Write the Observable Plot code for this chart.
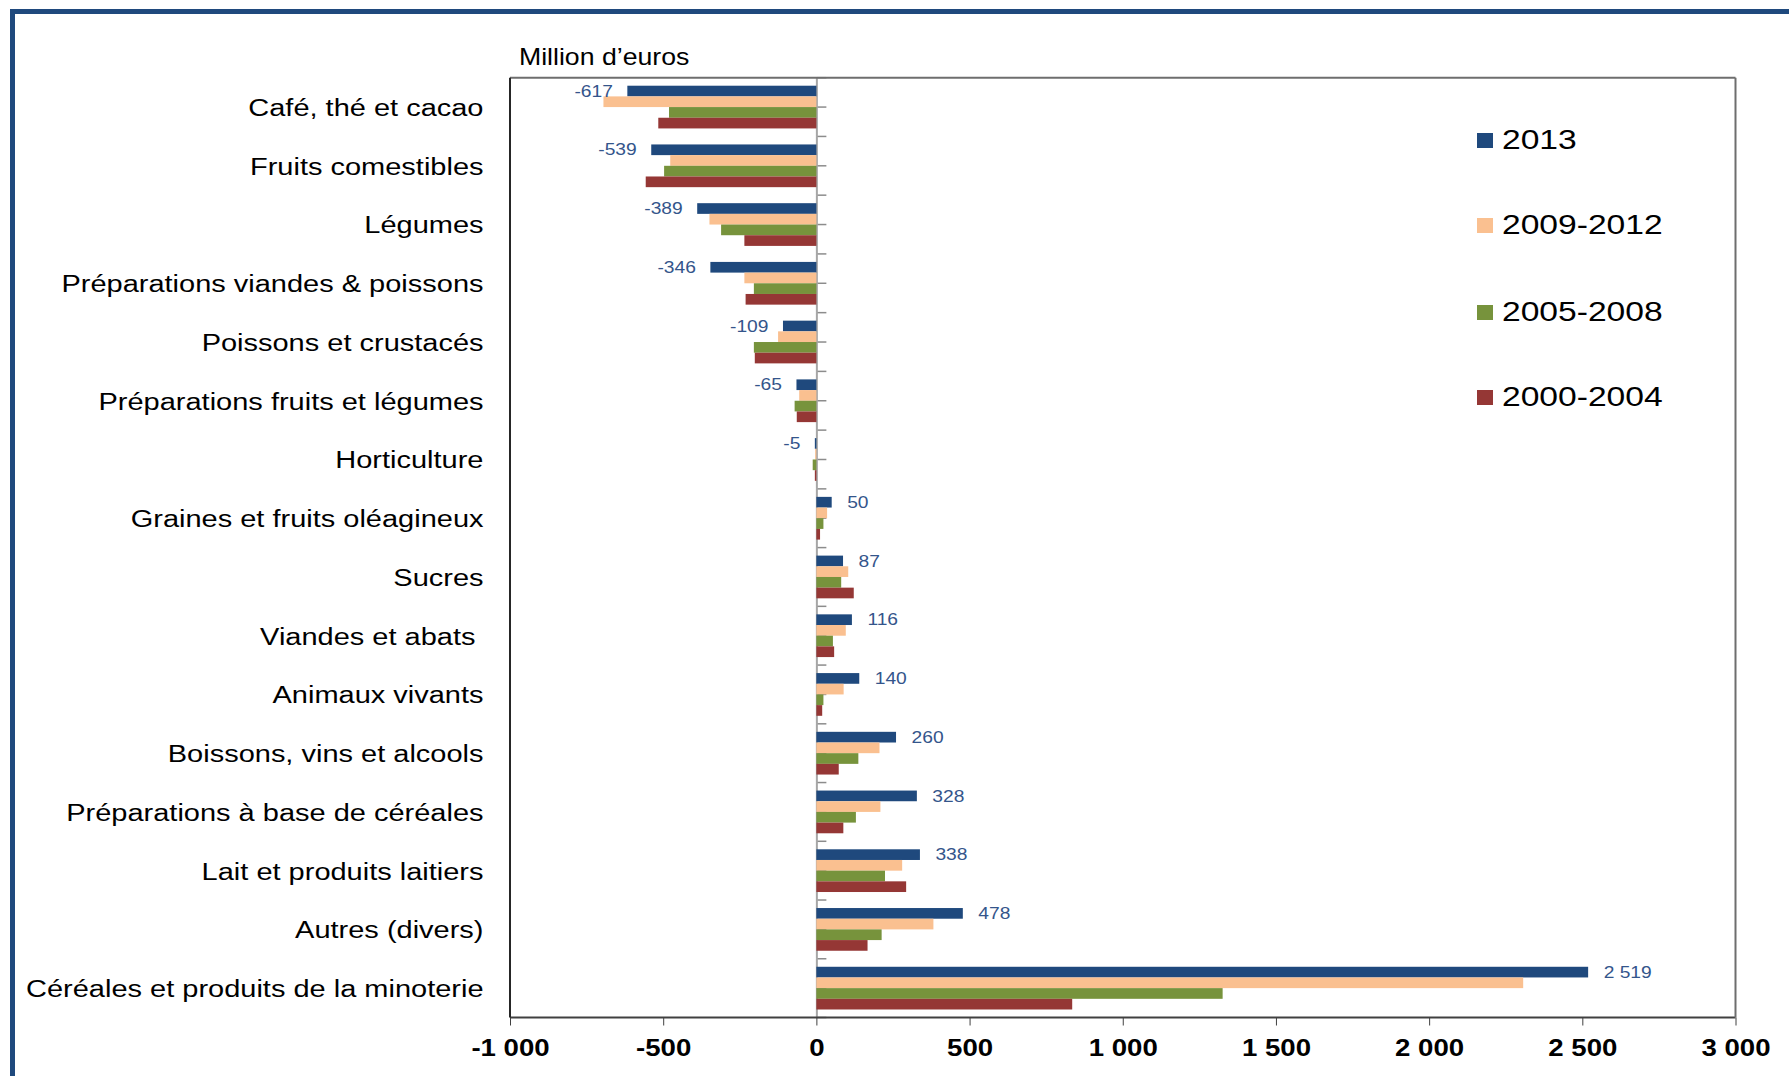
<!DOCTYPE html>
<html>
<head>
<meta charset="utf-8">
<script src="https://cdn.jsdelivr.net/npm/d3@7"></script>
<script src="https://cdn.jsdelivr.net/npm/@observablehq/plot@0.6"></script>
<style>
  html, body { margin: 0; padding: 0; background: #fff; }
  body { width: 1789px; height: 1076px; overflow: hidden; position: relative; font-family: "Liberation Sans", Arial, sans-serif; }
  #chart { position: absolute; left: 0; top: 0; }
  #chart svg text { white-space: pre; }
  #border { position: absolute; left: 10px; top: 9px; width: 1900px; height: 1200px; border: 5px solid #1F497D; box-sizing: border-box; pointer-events: none; }
  #unit { position: absolute; left: 519px; top: 42px; font-size: 24px; line-height: 30px; color: #000; transform: scaleX(1.11); transform-origin: left center; white-space: nowrap; }
  .lg { position: absolute; left: 1477px; height: 30px; display: flex; align-items: center; font-size: 28px; color: #000; }
  .lg .sw { width: 16px; height: 15px; margin-right: 9px; }
  .lg .tx { display: inline-block; transform: scaleX(1.2); transform-origin: left center; white-space: nowrap; }
</style>
</head>
<body>
<div id="chart"></div>
<div id="unit"></div>
<div id="legend"></div>
<div id="border"></div>
<script>
// ---- data ----
const categories = [
  "Café, thé et cacao",
  "Fruits comestibles",
  "Légumes",
  "Préparations viandes & poissons",
  "Poissons et crustacés",
  "Préparations fruits et légumes",
  "Horticulture",
  "Graines et fruits oléagineux",
  "Sucres",
  "Viandes et abats ",
  "Animaux vivants",
  "Boissons, vins et alcools",
  "Préparations à base de céréales",
  "Lait et produits laitiers",
  "Autres (divers)",
  "Céréales et produits de la minoterie"
];
const series = ["2013", "2009-2012", "2005-2008", "2000-2004"];
const seriesColors = ["#1F497D", "#FAC090", "#77933C", "#953735"];
const values2013      = [-617, -539, -389, -346, -109, -65, -5, 50, 87, 116, 140, 260, 328, 338, 478, 2519];
const values2009_2012 = [-695, -477, -349, -235, -125, -56, -4, 35, 104, 96, 89, 206, 209, 280, 382, 2307];
const values2005_2008 = [-481, -497, -311, -204, -204, -71, -12, 23, 81, 54, 23, 137, 129, 224, 213, 1326];
const values2000_2004 = [-516, -557, -235, -231, -201, -64, -5, 12, 122, 58, 19, 73, 88, 293, 167, 835];
const xTicks = [-1000, -500, 0, 500, 1000, 1500, 2000, 2500, 3000];
const xDomain = [-1000, 3000];
const unitLabel = "Million d’euros";

// ---- build table ----
const seriesValues = [values2013, values2009_2012, values2005_2008, values2000_2004];
const data = [];
categories.forEach((c, i) => series.forEach((s, j) => data.push({category: c, series: s, value: seriesValues[j][i]})));
const labelData = data.filter(d => d.series === series[0]);

const fr = d3.formatLocale({decimal: ",", thousands: " ", grouping: [3], currency: ["", " €"], minus: "-"});
const fmt = fr.format(",d");

const labelColor = "#34558B";
const font = "'Liberation Sans', Arial, sans-serif";

const plot = Plot.plot({
  width: 1789,
  height: 1076,
  marginLeft: 510,
  marginRight: 53.5,
  marginTop: 77.7,
  marginBottom: 58.5,
  style: {fontFamily: font, fontSize: "23px", background: "transparent", color: "#000", overflow: "visible"},
  x: {domain: xDomain, round: false},
  y: {domain: series, paddingInner: 0, paddingOuter: 0.75, round: false, axis: null},
  fy: {domain: categories, padding: 0, round: false, label: null},
  color: {domain: series, range: seriesColors},
  marks: [
    Plot.ruleX([0], {stroke: "#A6A6A6", strokeWidth: 2}),
    Plot.barX(data, {x: "value", y: "series", fy: "category", fill: "series"}),
    Plot.text(labelData.filter(d => d.value >= 0), {
      x: "value", y: "series", fy: "category", text: d => fmt(d.value),
      textAnchor: "start", dx: 15, fill: labelColor, fontSize: 16, className: "vlabel"
    }),
    Plot.text(labelData.filter(d => d.value < 0), {
      x: "value", y: "series", fy: "category", text: d => fmt(d.value),
      textAnchor: "end", dx: -15, fill: labelColor, fontSize: 16, className: "vlabel"
    }),
    Plot.axisX({ticks: xTicks, tickFormat: fmt, tickSize: 8, tickPadding: 14, fontWeight: "bold", fontSize: 23, stroke: "#404040", label: null, className: "xlab"}),
    Plot.axisFy({anchor: "left", tickSize: 0, tickPadding: 27, dy: 1, fontSize: 23, label: null, className: "fylab"})
  ]
});

document.getElementById("chart").appendChild(plot);

// ---- frame + category axis ticks, placed with the plot's own scales ----
const svg = d3.select(plot.tagName.toLowerCase() === "svg" ? plot : plot.querySelector("svg"));
const xs = plot.scale("x");
const fys = plot.scale("fy");
const x0 = xs.apply(0), xL = xs.apply(xDomain[0]), xR = xs.apply(xDomain[1]);
const fyBand = fys.bandwidth !== undefined ? fys.bandwidth : (fys.range[1] - fys.range[0]) / categories.length;
const yTop = fys.apply(categories[0]);
const yBot = fys.apply(categories[categories.length - 1]) + fyBand;

const under = svg.insert("g", ":first-child").attr("stroke", "#8C8C8C").attr("stroke-width", 1.5);
const tickYs = [];
categories.forEach(c => { const y = fys.apply(c); tickYs.push(y, y + fyBand / 2); });
tickYs.push(yBot);
under.selectAll("line").data(tickYs).join("line")
  .attr("x1", x0).attr("x2", x0 + 10).attr("y1", d => d).attr("y2", d => d);

const frame = svg.append("g").attr("fill", "none");
frame.append("line").attr("x1", xL).attr("x2", xR).attr("y1", yTop).attr("y2", yTop).attr("stroke", "#6E6E6E").attr("stroke-width", 2);
frame.append("line").attr("x1", xL).attr("x2", xR).attr("y1", yBot).attr("y2", yBot).attr("stroke", "#404040").attr("stroke-width", 2);
frame.append("line").attr("x1", xL).attr("x2", xL).attr("y1", yTop).attr("y2", yBot).attr("stroke", "#262626").attr("stroke-width", 2);
frame.append("line").attr("x1", xR).attr("x2", xR).attr("y1", yTop).attr("y2", yBot).attr("stroke", "#6E6E6E").attr("stroke-width", 2);

// ---- the reference's lettering is horizontally wide: stretch glyphs ----
function stretch(sel, k) {
  sel.each(function () {
    const len = this.getComputedTextLength();
    if (len > 0) {
      this.setAttribute("textLength", len * k);
      this.setAttribute("lengthAdjust", "spacingAndGlyphs");
    }
  });
}
stretch(svg.selectAll(".fylab text"), 1.26);
stretch(svg.selectAll(".xlab text"), 1.2);
stretch(svg.selectAll(".vlabel text"), 1.2);

// ---- unit label + legend ----
document.getElementById("unit").textContent = unitLabel;
const legendTops = [125, 210, 297, 382];
const lg = document.getElementById("legend");
series.forEach((s, i) => {
  const row = document.createElement("div");
  row.className = "lg";
  row.style.top = legendTops[i] + "px";
  const sw = document.createElement("span");
  sw.className = "sw";
  sw.style.background = seriesColors[i];
  const tx = document.createElement("span");
  tx.className = "tx";
  tx.textContent = s;
  row.appendChild(sw); row.appendChild(tx);
  lg.appendChild(row);
});
</script>
</body>
</html>
